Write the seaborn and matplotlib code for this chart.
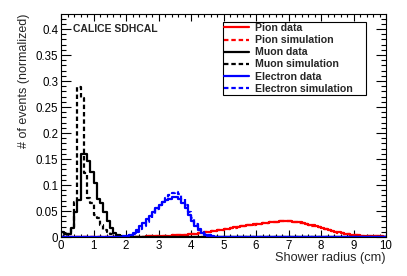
import numpy as np
import pandas as pd
import matplotlib
matplotlib.use("Agg")
import matplotlib.pyplot as plt
from matplotlib.lines import Line2D
from matplotlib.ticker import MultipleLocator
import seaborn as sns

# ---------------- data (bin width 0.1 cm, normalized) ----------------
bin_width = 0.1
x_min, x_max = 0.0, 10.0

# Muon: bins starting at 0.0 cm
muon_start = 0.0
muon_data = [0.010, 0.006, 0.006, 0.018, 0.048, 0.072, 0.159, 0.159, 0.147, 0.126,
             0.103, 0.074, 0.066, 0.048, 0.030, 0.017, 0.008, 0.003, 0.001, 0.000]
muon_sim = [0.000, 0.002, 0.005, 0.020, 0.068, 0.289, 0.268, 0.123, 0.075, 0.066,
            0.042, 0.036, 0.023, 0.014, 0.010, 0.006, 0.003, 0.001, 0.000, 0.000]

# Electron: bins starting at 1.8 cm
electron_start = 1.8
electron_data = [0.000, 0.001, 0.002, 0.004, 0.008, 0.013, 0.021, 0.027, 0.034, 0.041,
                 0.049, 0.056, 0.062, 0.067, 0.071, 0.074, 0.076, 0.077, 0.073, 0.066,
                 0.055, 0.043, 0.031, 0.021, 0.013, 0.008, 0.004, 0.002, 0.001, 0.000]
electron_sim = [0.000, 0.000, 0.001, 0.003, 0.006, 0.010, 0.016, 0.022, 0.029, 0.037,
                0.045, 0.053, 0.061, 0.068, 0.075, 0.080, 0.085, 0.086, 0.082, 0.074,
                0.062, 0.049, 0.036, 0.025, 0.016, 0.010, 0.006, 0.003, 0.001, 0.000]

# Pion: bins starting at 2.0 cm
pion_start = 2.0
pion_data = [0.0005, 0.0005, 0.0006, 0.0007, 0.0008, 0.0009, 0.0010, 0.0012, 0.0014, 0.0016,
             0.0018, 0.0021, 0.0024, 0.0027, 0.0030, 0.0034, 0.0038, 0.0043, 0.0048, 0.0054,
             0.0060, 0.0067, 0.0075, 0.0083, 0.0092, 0.0101, 0.0111, 0.0121, 0.0131, 0.0142,
             0.0153, 0.0163, 0.0173, 0.0183, 0.0193, 0.0203, 0.0213, 0.0223, 0.0232, 0.0241,
             0.0250, 0.0259, 0.0268, 0.0277, 0.0285, 0.0292, 0.0298, 0.0303, 0.0306, 0.0306,
             0.0303, 0.0297, 0.0289, 0.0279, 0.0267, 0.0253, 0.0238, 0.0222, 0.0205, 0.0187,
             0.0169, 0.0151, 0.0134, 0.0117, 0.0101, 0.0087, 0.0074, 0.0062, 0.0052, 0.0043,
             0.0036, 0.0030, 0.0025, 0.0021, 0.0018, 0.0015, 0.0013, 0.0011, 0.0010, 0.0009]
pion_sim = [0.0004, 0.0005, 0.0006, 0.0006, 0.0007, 0.0008, 0.0010, 0.0011, 0.0013, 0.0015,
            0.0017, 0.0020, 0.0023, 0.0026, 0.0029, 0.0033, 0.0037, 0.0042, 0.0047, 0.0053,
            0.0059, 0.0066, 0.0074, 0.0082, 0.0091, 0.0100, 0.0110, 0.0120, 0.0130, 0.0141,
            0.0152, 0.0162, 0.0172, 0.0182, 0.0192, 0.0202, 0.0212, 0.0222, 0.0231, 0.0240,
            0.0249, 0.0258, 0.0267, 0.0276, 0.0284, 0.0291, 0.0297, 0.0302, 0.0305, 0.0305,
            0.0302, 0.0296, 0.0288, 0.0278, 0.0266, 0.0252, 0.0237, 0.0221, 0.0204, 0.0186,
            0.0168, 0.0150, 0.0133, 0.0116, 0.0100, 0.0086, 0.0073, 0.0061, 0.0051, 0.0042,
            0.0035, 0.0029, 0.0024, 0.0020, 0.0017, 0.0014, 0.0012, 0.0010, 0.0009, 0.0008]

labels = ["Pion data", "Pion simulation", "Muon data", "Muon simulation",
          "Electron data", "Electron simulation"]
title_text = "CALICE SDHCAL"
x_label = "Shower radius (cm)"
y_label = "# of events (normalized)"

# ---------------- build full histograms ----------------
n_bins = int(round((x_max - x_min) / bin_width))
edges = np.linspace(x_min, x_max, n_bins + 1)
centers = 0.5 * (edges[:-1] + edges[1:])


def full(values, start):
    i0 = int(round((start - x_min) / bin_width))
    arr = np.zeros(n_bins)
    arr[i0:i0 + len(values)] = values
    return arr


series = [
    ("Pion simulation", full(pion_sim, pion_start), "#ff0000", "dash"),
    ("Pion data", full(pion_data, pion_start), "#ff0000", "solid"),
    ("Muon simulation", full(muon_sim, muon_start), "#000000", "dash"),
    ("Muon data", full(muon_data, muon_start), "#000000", "solid"),
    ("Electron simulation", full(electron_sim, electron_start), "#0000ff", "dash"),
    ("Electron data", full(electron_data, electron_start), "#0000ff", "solid"),
]

# ---------------- plot ----------------
sns.set_theme(style="ticks")
plt.rcParams["font.family"] = ["Liberation Sans", "DejaVu Sans"]

fig = plt.figure(figsize=(4.07, 2.76), dpi=100)
ax = fig.add_axes([61 / 407, 39 / 276, 325 / 407, 223 / 276])

dash_style = (0, (2.0, 1.3))
lw = 1.6
styles = {}
for name, vals, color, ls in series:
    df = pd.DataFrame({"x": centers, "w": vals})
    linestyle = dash_style if ls == "dash" else "-"
    sns.histplot(data=df, x="x", weights="w", binwidth=bin_width,
                 binrange=(x_min, x_max), element="step",
                 fill=False, color=color, linewidth=lw, linestyle=linestyle, ax=ax)
    styles[name] = (color, linestyle)

ax.set_xlim(x_min, x_max)
ax.set_ylim(0, 0.429)

ax.xaxis.set_major_locator(MultipleLocator(1))
ax.xaxis.set_minor_locator(MultipleLocator(0.2))
ax.yaxis.set_major_locator(MultipleLocator(0.05))
ax.yaxis.set_minor_locator(MultipleLocator(0.01))
ax.yaxis.set_major_formatter(matplotlib.ticker.FuncFormatter(
    lambda v, p: "0" if abs(v) < 1e-9 else ("%g" % round(v, 2))))

ax.tick_params(axis="both", which="both", direction="in", top=True, right=True,
               colors="black", width=0.8, labelsize=8.3)
ax.tick_params(axis="y", which="major", length=7)
ax.tick_params(axis="y", which="minor", length=3.5)
ax.tick_params(axis="x", which="major", length=5, pad=2)
ax.tick_params(axis="x", which="minor", length=2.5)
ax.tick_params(axis="y", pad=2)
for sp in ax.spines.values():
    sp.set_linewidth(0.8)
    sp.set_color("black")

ax.set_xlabel(x_label, fontsize=9.2, ha="right", x=1.0, labelpad=0)
ax.set_ylabel(y_label, fontsize=9.0, ha="right", y=1.0, labelpad=4)

ax.text(0.037, 0.933, title_text, transform=ax.transAxes, fontsize=7.5,
        fontweight="bold", va="center", ha="left")

handles = [Line2D([0], [0], color=styles[n][0], linestyle=styles[n][1], linewidth=lw)
           for n in labels]
leg = ax.legend(handles, labels, loc="upper left",
                bbox_to_anchor=(0.498, 0.628, 0.44, 0.338), mode="expand",
                frameon=True, fancybox=False, framealpha=1, edgecolor="black",
                prop={"weight": "bold", "size": 7.6}, handlelength=2.3,
                handletextpad=0.55, labelspacing=0.2, borderpad=0.15,
                borderaxespad=0)
leg.get_frame().set_linewidth(0.8)

fig.savefig("out.png", dpi=100)
